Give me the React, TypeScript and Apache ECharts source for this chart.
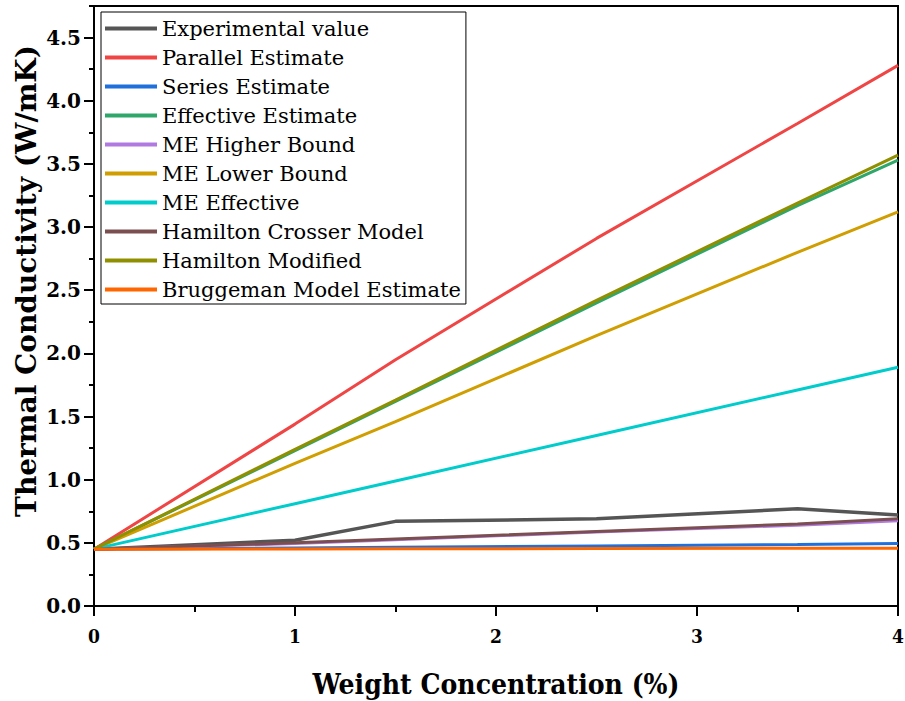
import React, { useEffect, useRef } from "react";
import * as echarts from "echarts";

const xValues = [0, 1, 1.5, 2.5, 3.5, 4];
const experimental = [0.45, 0.52, 0.67, 0.69, 0.77, 0.72];
const parallelEst = [0.45, 1.44, 1.95, 2.91, 3.82, 4.28];
const seriesEst = [0.45, 0.46, 0.465, 0.475, 0.487, 0.495];
const effectiveEst = [0.45, 1.23, 1.62, 2.4, 3.17, 3.53];
const meHigher = [0.45, 0.495, 0.525, 0.585, 0.64, 0.675];
const meLower = [0.45, 1.13, 1.46, 2.14, 2.8, 3.12];
const meEffective = [0.45, 0.81, 0.99, 1.35, 1.71, 1.89];
const hamiltonCrosser = [0.45, 0.5, 0.53, 0.59, 0.65, 0.69];
const hamiltonModified = [0.45, 1.24, 1.63, 2.42, 3.19, 3.57];
const bruggeman = [0.45, 0.452, 0.453, 0.455, 0.457, 0.458];

const seriesNames = [
  "Experimental value",
  "Parallel Estimate",
  "Series Estimate",
  "Effective Estimate",
  "ME Higher Bound",
  "ME Lower Bound",
  "ME Effective",
  "Hamilton Crosser Model",
  "Hamilton Modified",
  "Bruggeman Model Estimate",
];
const seriesData = [
  experimental,
  parallelEst,
  seriesEst,
  effectiveEst,
  meHigher,
  meLower,
  meEffective,
  hamiltonCrosser,
  hamiltonModified,
  bruggeman,
];
const colors = [
  "#555555",
  "#f04545",
  "#1f6fdc",
  "#2fa66a",
  "#b07ae0",
  "#d09e00",
  "#00cccc",
  "#7b4f4f",
  "#8f8f00",
  "#ff6600",
];

const yMajorTicks = [0, 0.5, 1, 1.5, 2, 2.5, 3, 3.5, 4, 4.5];

export default function App() {
  const ref = useRef<HTMLDivElement>(null);
  useEffect(() => {
    if (!ref.current) return;
    const chart = echarts.init(ref.current, undefined, { renderer: "svg" });
    const serif = "DejaVu Serif";
    const option: any = {
      animation: false,
      backgroundColor: "#fff",
      grid: {
        left: 94,
        right: 7,
        top: 6,
        bottom: 95,
        show: true,
        borderColor: "#000",
        borderWidth: 2,
        backgroundColor: "transparent",
        outerBoundsMode: "none",
        containLabel: false,
      },
      legend: {
        orient: "vertical",
        left: 101,
        top: 12,
        padding: [6, 5, 4, 4],
        icon: "rect",
        itemWidth: 52,
        itemHeight: 4,
        itemGap: 8,
        borderColor: "#000",
        borderWidth: 1,
        backgroundColor: "#fff",
        textStyle: { fontFamily: serif, fontSize: 21, color: "#000" },
        data: seriesNames,
      },
      xAxis: {
        type: "value",
        min: 0,
        max: 4,
        interval: 1,
        name: "Weight Concentration (%)",
        nameLocation: "middle",
        nameGap: 64,
        nameTextStyle: {
          fontFamily: "DejaVu Serif Condensed, DejaVu Serif",
          fontWeight: "bold",
          fontSize: 28,
          color: "#000",
        },
        axisLine: { show: true, lineStyle: { color: "#000", width: 2 } },
        axisTick: { show: true, length: 10, lineStyle: { color: "#000", width: 2 } },
        minorTick: { show: true, splitNumber: 2, length: 6, lineStyle: { color: "#000", width: 2 } },
        splitLine: { show: false },
        minorSplitLine: { show: false },
        axisLabel: {
          margin: 20,
          fontFamily: "DejaVu Serif Condensed, DejaVu Serif",
          fontWeight: "bold",
          fontSize: 19,
          color: "#000",
        },
      },
      yAxis: [
        {
          type: "value",
          min: 0,
          max: 4.75,
          interval: 0.25,
          position: "left",
          axisLine: { show: true, lineStyle: { color: "#000", width: 2 } },
          axisTick: { show: true, length: 5, lineStyle: { color: "#000", width: 2 } },
          splitLine: { show: false },
          axisLabel: {
            margin: 13,
            fontFamily: serif,
            fontWeight: "bold",
            fontSize: 20,
            color: "#000",
            formatter: (v: number) => {
              const r = Math.round(v * 2);
              return Math.abs(v * 2 - r) < 1e-6 && v <= 4.5 ? (r / 2).toFixed(1) : "";
            },
          },
        },
        {
          type: "value",
          min: 0,
          max: 4.75,
          interval: 0.25,
          position: "left",
          axisLine: { show: false },
          axisTick: {
            show: true,
            length: 10,
            customValues: yMajorTicks,
            lineStyle: { color: "#000", width: 2 },
          },
          axisLabel: { show: false },
          splitLine: { show: false },
        },
      ],
      graphic: [
        {
          type: "text",
          x: 26,
          y: 281,
          rotation: Math.PI / 2,
          style: {
            text: "Thermal Conductivity (W/mK)",
            fontFamily: serif,
            fontWeight: "bold",
            fontSize: 28,
            fill: "#000",
            textAlign: "center",
            textVerticalAlign: "middle",
          },
        },
      ],
      series: seriesNames.map((name, i) => ({
        name,
        type: "line",
        yAxisIndex: 0,
        data: xValues.map((x, j) => [x, seriesData[i][j]]),
        symbol: "none",
        showSymbol: false,
        color: colors[i],
        lineStyle: { color: colors[i], width: i === 0 ? 3.5 : 3 },
      })),
    };
    chart.setOption(option);
    return () => chart.dispose();
  }, []);
  return (
    <div
      ref={ref}
      style={{ position: "absolute", left: 0, top: 0, width: 905, height: 701 }}
    />
  );
}
